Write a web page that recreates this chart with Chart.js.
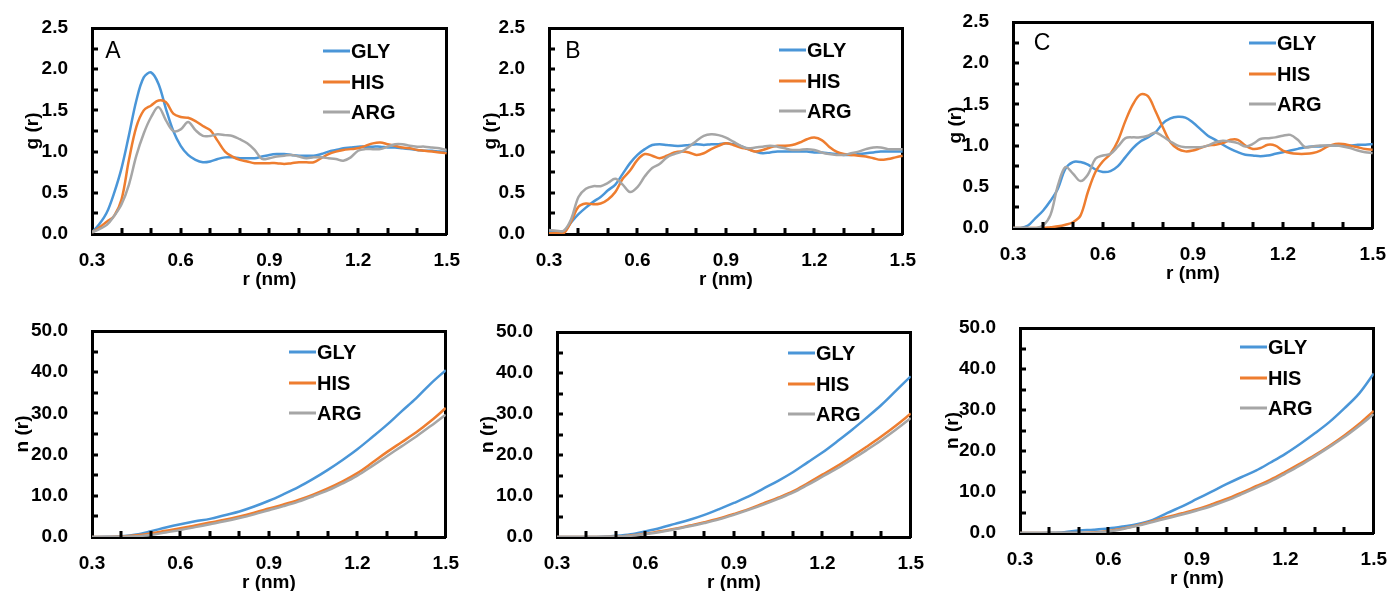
<!DOCTYPE html>
<html>
<head>
<meta charset="utf-8">
<script src="https://cdn.jsdelivr.net/npm/chart.js@4.4.0/dist/chart.umd.min.js"></script>
<style>
  body { margin: 0; background: #fff; width: 1390px; height: 591px; overflow: hidden; position: relative; }
  canvas { position: absolute; }
</style>
</head>
<body>
<canvas id="pA"></canvas>
<canvas id="pB"></canvas>
<canvas id="pC"></canvas>
<canvas id="pD"></canvas>
<canvas id="pE"></canvas>
<canvas id="pF"></canvas>
<script>
// r grid for g(r) panels (nm)
const rG = [0.300, 0.325, 0.350, 0.375, 0.400, 0.425, 0.450, 0.475, 0.500, 0.525,
  0.550, 0.575, 0.600, 0.625, 0.650, 0.675, 0.700, 0.725, 0.750, 0.775,
  0.800, 0.825, 0.850, 0.875, 0.900, 0.925, 0.950, 0.975, 1.000, 1.025,
  1.050, 1.075, 1.100, 1.125, 1.150, 1.175, 1.200, 1.225, 1.250, 1.275,
  1.300, 1.325, 1.350, 1.375, 1.400, 1.425, 1.450, 1.475, 1.500];
// r grid for n(r) panels
const rN = [0.30, 0.35, 0.40, 0.45, 0.50, 0.55, 0.60, 0.65, 0.70, 0.75, 0.80, 0.85, 0.90,
  0.95, 1.00, 1.05, 1.10, 1.15, 1.20, 1.25, 1.30, 1.35, 1.40, 1.45, 1.50];

const names = ['GLY', 'HIS', 'ARG'];
const xTicks = [0.3, 0.6, 0.9, 1.2, 1.5];

// panel A, g(r)
const gA_gly = [0.02, 0.12, 0.26, 0.5, 0.8, 1.2, 1.62, 1.9, 1.96, 1.82, 1.52, 1.25, 1.07, 0.96, 0.9, 0.87, 0.88, 0.91, 0.93, 0.93,
  0.92, 0.92, 0.92, 0.94, 0.96, 0.97, 0.97, 0.96, 0.95, 0.95, 0.95, 0.97, 1.0, 1.02, 1.04, 1.05, 1.06, 1.06, 1.06, 1.06,
  1.05, 1.05, 1.04, 1.03, 1.02, 1.01, 1.01, 1.0, 1.0];
const gA_his = [0.02, 0.08, 0.15, 0.22, 0.42, 0.9, 1.3, 1.5, 1.56, 1.62, 1.6, 1.46, 1.42, 1.41, 1.37, 1.31, 1.26, 1.13, 1.0, 0.94,
  0.9, 0.88, 0.86, 0.86, 0.86, 0.86, 0.85, 0.86, 0.87, 0.87, 0.87, 0.92, 0.97, 1.0, 1.02, 1.03, 1.04, 1.07, 1.1, 1.11,
  1.09, 1.07, 1.05, 1.04, 1.02, 1.01, 1.0, 0.99, 0.98];
const gA_arg = [0.02, 0.06, 0.11, 0.22, 0.36, 0.6, 0.95, 1.22, 1.42, 1.54, 1.38, 1.25, 1.27, 1.36, 1.26, 1.19, 1.19, 1.21, 1.2, 1.19,
  1.15, 1.1, 1.02, 0.91, 0.92, 0.94, 0.95, 0.96, 0.94, 0.92, 0.93, 0.93, 0.92, 0.91, 0.89, 0.93, 1.01, 1.03, 1.03, 1.03,
  1.06, 1.09, 1.09, 1.07, 1.06, 1.06, 1.05, 1.04, 1.02];

// panel B, g(r)
const gB_gly = [0.03, 0.03, 0.03, 0.14, 0.24, 0.32, 0.39, 0.45, 0.53, 0.6, 0.73, 0.86, 0.96, 1.03, 1.08, 1.09, 1.08, 1.07, 1.07, 1.08,
  1.09, 1.08, 1.09, 1.09, 1.1, 1.09, 1.07, 1.03, 1.0, 0.98, 0.99, 1.0, 1.0, 1.0, 1.0, 1.0, 0.99, 0.99, 0.98, 0.97,
  0.96, 0.96, 0.97, 0.98, 0.99, 1.0, 1.0, 1.0, 1.0];
const gB_his = [0.01, 0.01, 0.01, 0.15, 0.33, 0.37, 0.36, 0.37, 0.42, 0.51, 0.67, 0.77, 0.9, 0.97, 0.95, 0.92, 0.95, 0.99, 1.0, 0.99,
  0.96, 0.98, 1.03, 1.07, 1.1, 1.08, 1.05, 1.03, 1.0, 1.02, 1.05, 1.07, 1.07, 1.08, 1.11, 1.15, 1.17, 1.14, 1.06, 1.0,
  0.97, 0.96, 0.95, 0.94, 0.92, 0.9, 0.91, 0.93, 0.95];
const gB_arg = [0.05, 0.04, 0.04, 0.18, 0.45, 0.55, 0.58, 0.58, 0.62, 0.67, 0.6, 0.51, 0.57, 0.7, 0.8, 0.85, 0.93, 0.97, 1.0, 1.06,
  1.13, 1.19, 1.21, 1.2, 1.17, 1.12, 1.07, 1.04, 1.05, 1.06, 1.07, 1.06, 1.04, 1.02, 1.02, 1.03, 1.02, 0.99, 0.97, 0.96,
  0.96, 0.98, 1.0, 1.03, 1.05, 1.05, 1.03, 1.03, 1.03];

// panel C, g(r)
const gC_gly = [0, 0, 0.03, 0.12, 0.21, 0.33, 0.48, 0.72, 0.8, 0.8, 0.77, 0.71, 0.68, 0.69, 0.75, 0.86, 0.97, 1.05, 1.1, 1.16,
  1.27, 1.33, 1.35, 1.34, 1.28, 1.2, 1.12, 1.07, 1.01, 0.96, 0.92, 0.89, 0.88, 0.87, 0.88, 0.9, 0.92, 0.94, 0.96, 0.98,
  0.99, 0.99, 1.0, 1.0, 1.0, 1.0, 1.01, 1.01, 1.02];
const gC_his = [0, 0, 0, 0, 0, 0.01, 0.02, 0.04, 0.07, 0.15, 0.44, 0.68, 0.81, 0.9, 1.06, 1.3, 1.5, 1.62, 1.6, 1.42,
  1.22, 1.04, 0.96, 0.93, 0.94, 0.97, 1.0, 1.01, 1.03, 1.07, 1.07, 1.0, 0.96, 0.97, 1.01, 1.0, 0.94, 0.91, 0.9, 0.9,
  0.91, 0.94, 0.99, 1.02, 1.02, 1.0, 0.98, 0.96, 0.95];
const gC_arg = [0, 0, 0, 0, 0.03, 0.16, 0.52, 0.74, 0.66, 0.57, 0.65, 0.84, 0.88, 0.9, 0.99, 1.09, 1.1, 1.1, 1.12, 1.16,
  1.11, 1.05, 1.0, 0.98, 0.98, 0.98, 1.0, 1.04, 1.06, 1.05, 1.03, 0.99, 1.02, 1.08, 1.09, 1.1, 1.12, 1.13, 1.07, 0.98,
  0.99, 1.0, 1.0, 1.0, 0.99, 0.97, 0.94, 0.92, 0.91];

// panel D, n(r)
const nD_gly = [0, 0.05, 0.2, 0.6, 1.4, 2.3, 3.1, 3.8, 4.4, 5.3, 6.2, 7.4, 8.8, 10.4, 12.1, 14.1, 16.3, 18.7, 21.3, 24.2,
  27.2, 30.5, 33.7, 37.3, 40.5];
const nD_his = [0, 0, 0.1, 0.4, 0.9, 1.5, 2.1, 2.8, 3.5, 4.2, 5.0, 5.9, 6.9, 7.9, 9.0, 10.3, 11.8, 13.5, 15.5, 18.0,
  20.6, 23.0, 25.4, 28.2, 31.3];
const nD_arg = [0, 0, 0.05, 0.2, 0.5, 1.1, 1.7, 2.4, 3.1, 3.8, 4.6, 5.5, 6.5, 7.5, 8.6, 9.9, 11.3, 13.0, 14.9, 17.2,
  19.6, 22.0, 24.4, 27.0, 29.7];

// panel E, n(r)
const nE_gly = [0, 0, 0, 0.05, 0.3, 0.7, 1.4, 2.2, 3.2, 4.2, 5.4, 6.8, 8.3, 9.9, 11.8, 13.7, 15.8, 18.2, 20.6, 23.3,
  26.1, 29.1, 32.2, 35.7, 39.2];
const nE_his = [0, 0, 0, 0, 0.1, 0.4, 0.8, 1.4, 2.0, 2.8, 3.6, 4.5, 5.6, 6.8, 8.2, 9.6, 11.1, 13.1, 15.2, 17.3,
  19.6, 22.0, 24.5, 27.2, 30.1];
const nE_arg = [0, 0, 0, 0, 0.1, 0.3, 0.7, 1.2, 1.9, 2.6, 3.4, 4.3, 5.4, 6.6, 7.9, 9.3, 10.8, 12.7, 14.7, 16.7,
  18.9, 21.2, 23.6, 26.2, 29.0];

// panel F, n(r)
const nF_gly = [0, 0, 0.05, 0.2, 0.6, 0.8, 1.1, 1.6, 2.2, 3.2, 4.9, 6.5, 8.3, 10.1, 11.9, 13.6, 15.2, 17.2, 19.3, 21.7,
  24.3, 27.1, 30.4, 34.0, 38.9];
const nF_his = [0, 0, 0, 0, 0, 0.1, 0.5, 1.1, 1.9, 2.9, 3.9, 4.8, 5.8, 7.0, 8.3, 9.8, 11.4, 13.0, 14.9, 16.9,
  19.0, 21.3, 23.8, 26.6, 29.8];
const nF_arg = [0, 0, 0, 0, 0, 0.05, 0.4, 1.0, 1.8, 2.7, 3.6, 4.5, 5.5, 6.6, 7.9, 9.4, 11.0, 12.6, 14.5, 16.5,
  18.7, 21.0, 23.4, 26.1, 29.0];

const colors = ['#4a96d8', '#ee7d2f', '#a6a6a6'];

Chart.defaults.font.family = '"Liberation Sans", Arial, sans-serif';
Chart.defaults.font.weight = 'bold';
Chart.defaults.font.size = 19;
Chart.defaults.color = '#000';

const frameBorder = { display: true, color: '#000', width: 3 };

// panel letter, legend and the small inside tick marks
const framePlugin = {
  id: 'panelFrame',
  afterDraw(chart) {
    const o = chart.config._config.panel;
    const ctx = chart.ctx;
    const a = chart.chartArea;
    const L = Math.round(a.left), T = Math.round(a.top), B = Math.round(a.bottom);
    ctx.save();

    if (o.letter) {
      ctx.fillStyle = '#000';
      ctx.font = 'normal 23px "Liberation Sans", Arial, sans-serif';
      ctx.textAlign = 'center';
      ctx.textBaseline = 'middle';
      ctx.fillText(o.letter, L + o.letterX, T + o.letterY);
    }

    ctx.font = 'bold 20px "Liberation Sans", Arial, sans-serif';
    ctx.textAlign = 'left';
    ctx.textBaseline = 'middle';
    chart.data.datasets.forEach((ds, i) => {
      const ly = Math.round(T + o.legY + i * 30.5);
      const lx = L + o.legX;
      ctx.fillStyle = ds.borderColor;
      ctx.fillRect(lx, ly - 1.5, 27, 3);
      ctx.fillStyle = '#000';
      ctx.fillText(ds.label, lx + 28, ly + 1);
    });

    ctx.fillStyle = '#000';
    const x = chart.scales.x;
    const y = chart.scales.y;
    for (let i = 1; i < 12; i++) {
      const px = Math.round(x.getPixelForValue(0.3 + i * 0.1));
      ctx.fillRect(px - 1.5, B - 6, 3, 6);
    }
    for (let i = 1; i < 10; i++) {
      const py = Math.round(y.getPixelForValue(i * o.yStep));
      ctx.fillRect(L, py - 1.5, 6, 3);
    }
    ctx.restore();
  }
};

function makePanel(id, rect, xs, series, opt) {
  const cv = document.getElementById(id);
  const W = rect.r - rect.l + 110;
  const H = rect.b - rect.t + 88;
  cv.width = W;
  cv.height = H;
  cv.style.left = (rect.l - 90) + 'px';
  cv.style.top = (rect.t - 28) + 'px';
  cv.style.width = W + 'px';
  cv.style.height = H + 'px';

  new Chart(cv.getContext('2d'), {
    type: 'line',
    panel: opt,
    data: {
      labels: xs,
      datasets: series.map((vals, i) => ({
        label: names[i],
        data: vals,
        borderColor: colors[i],
        borderWidth: 2.5,
        pointRadius: 0,
        tension: 0.35,
        order: 2 - i,
      })),
    },
    options: {
      responsive: false,
      animation: false,
      devicePixelRatio: 1,
      layout: { padding: { left: 0, right: 20, top: 28, bottom: 0 } },
      scales: {
        x: {
          type: 'linear',
          min: 0.3,
          max: 1.5,
          afterBuildTicks: (s) => { s.ticks = xTicks.map(v => ({ value: v })); },
          afterFit: (s) => { s.height = 60; },
          grid: { display: false },
          border: frameBorder,
          ticks: { padding: 7, maxRotation: 0, callback: (v) => v.toFixed(1) },
          title: { display: true, text: 'r (nm)', padding: { top: 0, bottom: 3 } },
        },
        x2: {
          type: 'linear',
          position: 'top',
          min: 0.3,
          max: 1.5,
          afterFit: (s) => { s.height = 0; },
          grid: { display: false },
          border: frameBorder,
          ticks: { display: false },
        },
        y: {
          min: 0,
          max: opt.yMax,
          afterFit: (s) => { s.width = 90; },
          grid: { display: false },
          border: frameBorder,
          ticks: { stepSize: opt.yStep * 2, padding: 16, callback: (v) => v.toFixed(1) },
          title: { display: true, text: opt.yTitle, padding: { top: opt.titlePad, bottom: 0 } },
        },
        y2: {
          position: 'right',
          min: 0,
          max: opt.yMax,
          afterFit: (s) => { s.width = 0; },
          grid: { display: false },
          border: frameBorder,
          ticks: { display: false },
        },
      },
      plugins: {
        legend: { display: false },
        tooltip: { enabled: false },
      },
    },
    plugins: [framePlugin],
  });
}

makePanel('pA', { l: 92, t: 28, r: 447, b: 234 }, rG, [gA_gly, gA_his, gA_arg],
  { yMax: 2.5, yStep: 0.25, yTitle: 'g (r)', titlePad: 19, letter: 'A', letterX: 21, letterY: 24, legX: 231, legY: 23 });
makePanel('pB', { l: 549, t: 28, r: 903, b: 234 }, rG, [gB_gly, gB_his, gB_arg],
  { yMax: 2.5, yStep: 0.25, yTitle: 'g (r)', titlePad: 20, letter: 'B', letterX: 24, letterY: 24, legX: 230, legY: 22 });
makePanel('pC', { l: 1013, t: 22, r: 1373, b: 228 }, rG, [gC_gly, gC_his, gC_arg],
  { yMax: 2.5, yStep: 0.25, yTitle: 'g (r)', titlePad: 21, letter: 'C', letterX: 29, letterY: 22, legX: 236, legY: 21 });
makePanel('pD', { l: 92, t: 331, r: 446, b: 537 }, rN, [nD_gly, nD_his, nD_arg],
  { yMax: 50, yStep: 5, yTitle: 'n (r)', titlePad: 9, legX: 197, legY: 21 });
makePanel('pE', { l: 557, t: 332, r: 911, b: 537 }, rN, [nE_gly, nE_his, nE_arg],
  { yMax: 50, yStep: 5, yTitle: 'n (r)', titlePad: 9, legX: 231, legY: 21 });
makePanel('pF', { l: 1020, t: 328, r: 1374, b: 533 }, rN, [nF_gly, nF_his, nF_arg],
  { yMax: 50, yStep: 5, yTitle: 'n (r)', titlePad: 11, legX: 220, legY: 19 });
</script>
</body>
</html>
